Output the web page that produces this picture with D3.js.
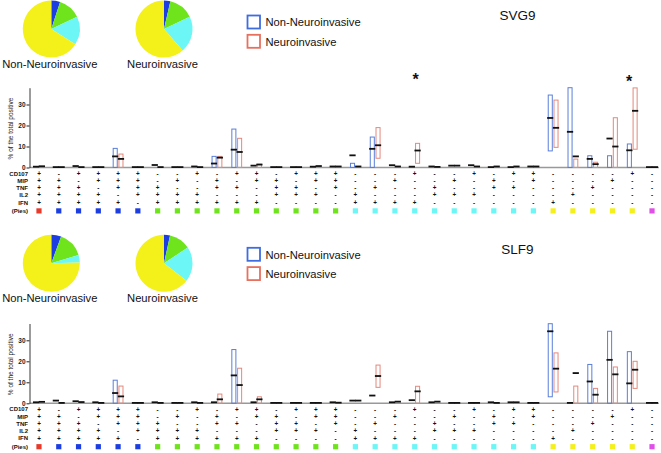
<!DOCTYPE html>
<html><head><meta charset="utf-8">
<script src="https://cdn.jsdelivr.net/npm/d3@7"></script>
<style>body{margin:0;background:#fff}svg{display:block}</style>
</head><body>
<script>
// ---------- DATA ----------
const markers = ["CD107","MIP","TNF","IL2","IFN"];
const combos = ["+++++","-++++","+-+++","++-++","+++-+","++++-",
  "--+++","-+-++","+--++","-++-+","+-+-+","++--+","-+++-","+-++-","++-+-","+++--",
  "---++","--+-+","-+--+","+---+","--++-","-+-+-","+--+-","-++--","+-+--","++---",
  "----+","---+-","--+--","-+---","+----","-----"];
const seriesNames = ["Non-Neuroinvasive","Neuroinvasive"];
const yTicks = [0,10,20,30];
const pieGroups = ["4+","3+","2+","1+"];

// SVG9
const svgNonLo  = [0,0,0,0,0,0, 0,0,0,0,0,0,0,0,0,0, 0,0,0,0,0,0,0,0,0,0, 7.9,0,0,0,0, 0];
const svgNonHi  = [0,0,0,0,9.1,0, 0,0,0,5.3,18.3,0,0,0,0,0, 2.0,14.5,0,0,0,0,0,0,0,0, 34.5,38,5.6,5.6,11.2, 0];
const svgNonMed = [0.2,0,0.5,0,5.1,0, 1.0,0,0.3,1.7,8.3,0.7,0,0,0.2,0.3, 5.6,8.7,0.9,0.2,0.3,0.7,0.9,0,0,0.3, 23.4,16.8,3.9,13.6,8.0, 0];
const svgNeuLo  = [0,0,0,0,0,0, 0,0,0,0,0,0,0,0,0,0, 0,4.4,0,2.0,0,0,0,0,0,0, 9.6,0,0,0,8.7, 0];
const svgNeuHi  = [0,0,0,0,6.4,0, 0,0,0,5.3,13.9,1.6,0,0,0,0, 0,19,0,11.5,0,0,0,0,0,0, 32.1,4.0,2.5,23.7,37.9, 0];
const svgNeuMed = [0.4,0,0,0,3.9,0, 0,0,0,4.5,7.2,1.2,0,0,0.5,0.3, 0.3,10.4,0.3,7.9,0.1,0.7,0.3,0.3,0.3,0.3, 18.7,5.1,1.4,9.8,26.8, 0];
const svgStars  = [19,30]; // column indices with asterisk
const svgPieNon = [5,13,16,66];
const svgPieNeu = [3.6,14.4,20.6,61.4];

// SLF9
const slfNonLo  = [0,0,0,0,0,0, 0,0,0,0,0,0,0,0,0,0, 0,0,0,0,0,0,0,0,0,0, 3.1,0,0,0,0, 0];
const slfNonHi  = [0,0,0,0,11.0,0, 0,0,0,0,25.6,0,0,0,0,0, 0,0,0,0,0,0,0,0,0,0, 37.9,0,18.5,34.3,24.6, 0];
const slfNonMed = [0.3,1.1,0.8,0.3,4.7,0, 0.3,0,0.3,0.3,13.1,0.3,0,0,0,0.3, 1.1,3.5,0.3,1.3,0.3,0,0,0.3,0.3,0, 34.1,0,10.2,20.5,9.3, 0];
const slfNeuLo  = [0,0,0,0,0,0, 0,0,0,0,0,0,0,0,0,0, 0,7.6,0,0,0,0,0,0,0,0, 5.4,0,0,0,7.1, 0];
const slfNeuHi  = [0,0,0,0,8.2,0, 0,0,0,4.4,16.7,3.1,0,0,0,0, 0,18.2,0,8.1,0,0,0,0,0,0, 24,8.2,7.1,17.3,20, 0];
const slfNeuMed = [0.5,0,0.4,0,3.1,0, 0,0,0,1.7,8.5,1.7,0,0,0,0.1, 1.1,12.8,0.6,5.5,0.6,0,0,0,0.3,0, 16.3,14.2,3.9,13.6,15.8, 0];
const slfStars  = [];
const slfPieNon = [5.6,14.7,4.3,75.4];
const slfPieNeu = [3.4,12.3,19.8,64.5];

// ---------- STYLE ----------
const W = 661, H = 453;
const pieColors = {"5":"#e83a2a","4":"#1c3ee0","3":"#6fe41c","2":"#6cf6f6","1":"#f4f01a","0":"#e050e8"};
const pieGroupColors = ["#1c3ee0","#6fe41c","#6cf6f6","#f4f01a"];
const seriesStroke = ["#5a7fd9","#e4887c"];
const legendStroke = ["#3f6de0","#e8705f"];
const font = "'Liberation Sans', Arial, sans-serif";

const svg = d3.select("body").append("svg").attr("width", W).attr("height", H);

const x = d3.scaleBand().domain(d3.range(combos.length)).range([29.1, 661.9]);
const xs = d3.scaleBand().domain([0,1]).range([-5.4, 5.4]).paddingInner(0.12);

function drawPanel(cfg) {
  const g = svg.append("g");
  const y = d3.scaleLinear().domain([0, 38]).range([cfg.y0, cfg.y0 - 79.8]);

  // pies
  const pie = d3.pie().sort(null).value(d => d);
  const arc = d3.arc().innerRadius(0).outerRadius(28.5);
  [[cfg.pieNon, 51.3, seriesNames[0]], [cfg.pieNeu, 164, seriesNames[1]]].forEach(([vals, cx, label]) => {
    const pg = g.append("g").attr("transform", `translate(${cx},${cfg.pieY})`);
    pg.selectAll("path").data(pie(vals)).join("path")
      .attr("d", arc).attr("fill", (d, i) => pieGroupColors[i]);
    g.append("text").attr("x", cx - 1.5).attr("y", cfg.pieY + 39)
      .attr("text-anchor", "middle").attr("font-family", font).attr("font-size", 11.2)
      .attr("fill", "#111").text(label);
  });

  // legend
  seriesNames.forEach((n, i) => {
    g.append("rect").attr("x", 247.5).attr("y", cfg.legY + i * 19.3)
      .attr("width", 12.5).attr("height", 13).attr("fill", "#fff")
      .attr("stroke", legendStroke[i]).attr("stroke-width", 1.8);
    g.append("text").attr("x", 265.5).attr("y", cfg.legY + i * 19.3 + 10.7)
      .attr("font-family", font).attr("font-size", 11.2).attr("fill", "#111").text(n);
  });

  // title
  g.append("text").attr("x", 517.5).attr("y", cfg.titleY).attr("text-anchor", "middle")
    .attr("font-family", font).attr("font-size", 13.5).attr("fill", "#111").text(cfg.title);

  // baseline
  g.append("line").attr("x1", 29.5).attr("x2", 659).attr("y1", y(0)).attr("y2", y(0))
    .attr("stroke", "#999").attr("stroke-width", 1.4);

  // y axis
  const ax = g.append("g").attr("transform", "translate(29.5,0)")
    .call(d3.axisLeft(y).tickValues(yTicks).tickSize(3).tickSizeOuter(0));
  ax.select(".domain").attr("stroke", "#222").attr("stroke-width", 0.9);
  ax.selectAll(".tick line").attr("stroke", "#222");
  ax.selectAll(".tick text").attr("font-family", font).attr("font-size", 6.5)
    .attr("font-weight", "bold").attr("fill", "#222").attr("x", -4);
  g.append("text").attr("transform", `translate(13,${cfg.y0 - 39}) rotate(-90)`)
    .attr("text-anchor", "middle").attr("font-family", font).attr("font-size", 6.5)
    .attr("fill", "#222").text("% of the total positive");

  // bars
  const series = [[cfg.nonLo, cfg.nonHi, cfg.nonMed], [cfg.neuLo, cfg.neuHi, cfg.neuMed]];
  series.forEach(([lo, hi, med], s) => {
    combos.forEach((c, i) => {
      const x0 = x(i) + x.bandwidth() / 2 + xs(s);
      if (hi[i] > lo[i]) {
        g.append("rect").attr("x", x0 + 0.5).attr("width", xs.bandwidth() - 1)
          .attr("y", y(hi[i])).attr("height", y(lo[i]) - y(hi[i]))
          .attr("fill", "none").attr("stroke", seriesStroke[s]).attr("stroke-width", 1);
      }
      g.append("line").attr("x1", x0 - 0.6).attr("x2", x0 + xs.bandwidth() + 0.6)
        .attr("y1", y(med[i]) - 0.4).attr("y2", y(med[i]) - 0.4)
        .attr("stroke", "#111").attr("stroke-width", 1.8);
    });
  });

  // stars
  cfg.stars.forEach(i => {
    g.append("text").attr("x", x(i) + x.bandwidth() / 2 + (i === 30 ? -3 : 1)).attr("y", y(cfg.starV[i]))
      .attr("text-anchor", "middle").attr("font-family", font).attr("font-size", 16)
      .attr("font-weight", "bold").attr("fill", "#111").text("*");
  });

  // sign table
  markers.forEach((m, r) => {
    const ry = cfg.y0 + 6 + r * 7.25;
    g.append("text").attr("x", 28).attr("y", ry).attr("dy", "0.35em").attr("text-anchor", "end")
      .attr("font-family", font).attr("font-size", 6).attr("font-weight", "bold").attr("fill", "#111").text(m);
    combos.forEach((c, i) => {
      g.append("text").attr("x", x(i) + x.bandwidth() / 2).attr("y", ry).attr("dy", "0.35em")
        .attr("text-anchor", "middle").attr("font-family", font).attr("font-size", 6.3)
        .attr("font-weight", "bold").attr("fill", "#111").text(c[r] === "+" ? "+" : "-");
    });
  });
  const py = cfg.y0 + 43.4;
  g.append("text").attr("x", 28).attr("y", py).attr("dy", "0.35em").attr("text-anchor", "end")
    .attr("font-family", font).attr("font-size", 6).attr("font-weight", "bold").attr("fill", "#111").text("(Pies)");
  combos.forEach((c, i) => {
    const n = c.split("").filter(ch => ch === "+").length;
    g.append("rect").attr("x", x(i) + x.bandwidth() / 2 - 2.6).attr("y", py - 2.6)
      .attr("width", 5.2).attr("height", 5.2).attr("fill", pieColors[n]);
  });
}

drawPanel({title: "SVG9", y0: 167.5, pieY: 29, legY: 15.5, titleY: 19.5,
  nonLo: svgNonLo, nonHi: svgNonHi, nonMed: svgNonMed,
  neuLo: svgNeuLo, neuHi: svgNeuHi, neuMed: svgNeuMed,
  stars: svgStars, starV: {19: 39.5, 30: 38.5}, pieNon: svgPieNon, pieNeu: svgPieNeu});
drawPanel({title: "SLF9", y0: 403.3, pieY: 263.3, legY: 247.8, titleY: 254,
  nonLo: slfNonLo, nonHi: slfNonHi, nonMed: slfNonMed,
  neuLo: slfNeuLo, neuHi: slfNeuHi, neuMed: slfNeuMed,
  stars: slfStars, starV: {}, pieNon: slfPieNon, pieNeu: slfPieNeu});
</script>
</body></html>
